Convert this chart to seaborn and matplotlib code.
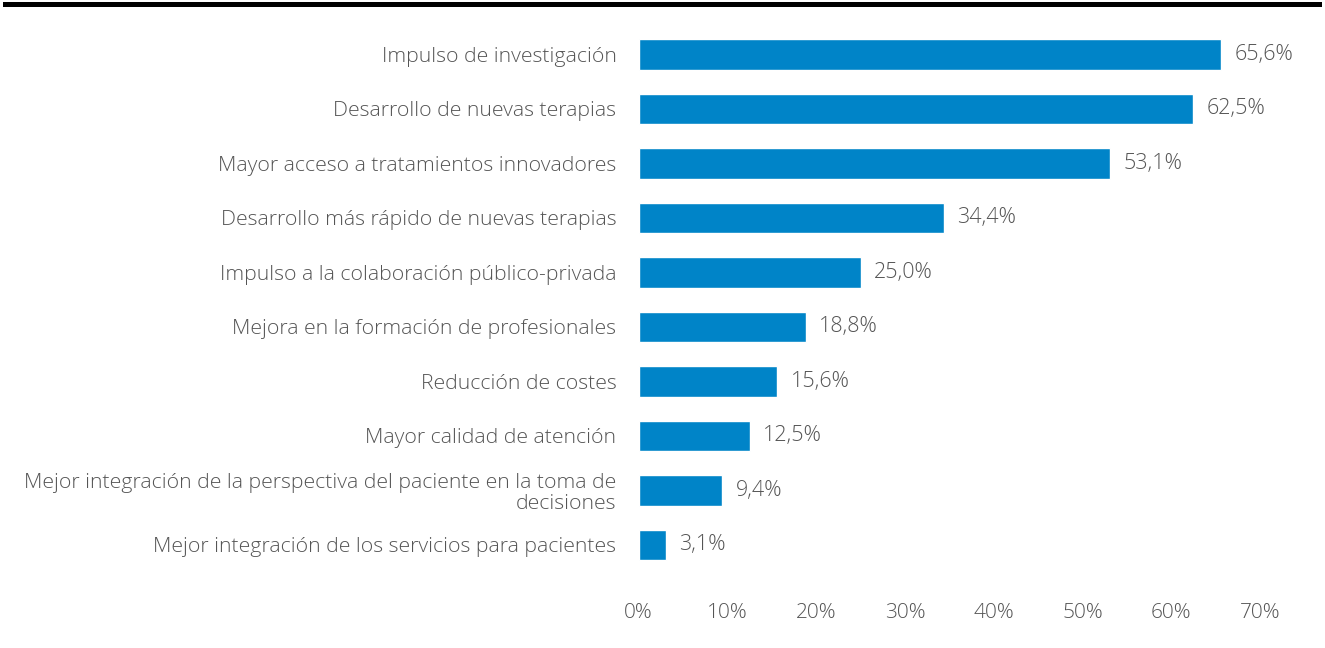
import matplotlib
matplotlib.use('Agg')
import matplotlib.pyplot as plt
import pandas as pd
import seaborn as sns

categories = [
    'Impulso de investigación',
    'Desarrollo de nuevas terapias',
    'Mayor acceso a tratamientos innovadores',
    'Desarrollo más rápido de nuevas terapias',
    'Impulso a la colaboración público-privada',
    'Mejora en la formación de profesionales',
    'Reducción de costes',
    'Mayor calidad de atención',
    'Mejor integración de la perspectiva del paciente en la toma de\ndecisiones',
    'Mejor integración de los servicios para pacientes',
]
values = [65.6, 62.5, 53.1, 34.4, 25.0, 18.8, 15.6, 12.5, 9.4, 3.1]
x_ticks = [0, 10, 20, 30, 40, 50, 60, 70]

BAR_COLOR = '#0084C8'
TEXT_COLOR = '#555555'
FONT_SIZE = 15.3


def main() -> None:
    df = pd.DataFrame({'category': categories, 'value': values})

    sns.set_theme(style='white')
    plt.rcParams['font.family'] = ['Open Sans', 'DejaVu Sans']

    fig = plt.figure(figsize=(13.25, 6.48), dpi=100)
    ax = fig.add_axes([0.482, 0.117, 0.469, 0.841])

    sns.barplot(data=df, x='value', y='category', order=categories,
                color=BAR_COLOR, saturation=1, width=0.56, ax=ax)

    # value labels with comma decimal separator
    for i, v in enumerate(values):
        ax.text(v + 1.5, i, f'{v:.1f}%'.replace('.', ','), va='center', ha='left',
                fontsize=15.5, color=TEXT_COLOR, fontweight='light')

    ax.set_xlim(0, 70)
    ax.set_xticks(x_ticks)
    ax.set_xticklabels([f'{t}%' for t in x_ticks], fontsize=15, color=TEXT_COLOR,
                       fontweight='light')
    ax.tick_params(axis='x', length=0, pad=22)
    ax.tick_params(axis='y', length=0, pad=16)
    for lbl in ax.get_yticklabels():
        lbl.set_fontsize(FONT_SIZE)
        lbl.set_color(TEXT_COLOR)
        lbl.set_fontweight('light')
        lbl.set_horizontalalignment('right')
        lbl.set_multialignment('right')
        lbl.set_linespacing(1.05)
    ax.set_xlabel('')
    ax.set_ylabel('')
    sns.despine(ax=ax, left=True, bottom=True)

    # thick black rule along the top of the figure
    fig.add_artist(plt.Rectangle((0.002, 0.989), 0.996, 0.008, transform=fig.transFigure,
                                 facecolor='black', edgecolor='none'))

    fig.savefig('out.png', dpi=100)
    plt.close(fig)


if __name__ == '__main__':
    main()
